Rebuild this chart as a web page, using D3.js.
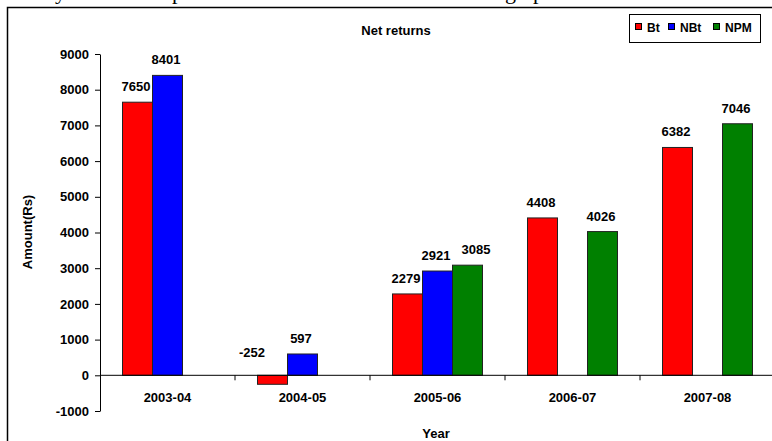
<!DOCTYPE html>
<html>
<head>
<meta charset="utf-8">
<script src="https://cdn.jsdelivr.net/npm/d3@7/dist/d3.min.js"></script>
<style>
  html, body { margin: 0; padding: 0; background: #fff; }
  svg { display: block; }
  text { font-family: "Liberation Sans", Arial, sans-serif; font-weight: bold; fill: #000; }
</style>
</head>
<body>
<svg id="chart" width="772" height="441"></svg>
<script>
const categories = ["2003-04", "2004-05", "2005-06", "2006-07", "2007-08"];
const seriesNames = ["Bt", "NBt", "NPM"];
const btValues  = [7650, -252, 2279, 4408, 6382];
const nbtValues = [8401, 597, 2921, null, null];
const npmValues = [null, null, 3085, 4026, 7046];
const yTicks = [-1000, 0, 1000, 2000, 3000, 4000, 5000, 6000, 7000, 8000, 9000];
const chartTitle = "Net returns";
const xTitle = "Year";
const yTitle = "Amount(Rs)";

const colors = {Bt: "#FF0000", NBt: "#0000FF", NPM: "#008000"};
const seriesValues = {Bt: btValues, NBt: nbtValues, NPM: npmValues};

const svg = d3.select("#chart");

// cut-off line of document text above the chart
const docLine = svg.append("text")
  .attr("y", -1)
  .style("font-family", "'Liberation Serif', 'Times New Roman', serif")
  .style("font-weight", "normal")
  .style("font-size", "22px");
docLine.append("tspan").attr("x", 55).text("y");
docLine.append("tspan").attr("x", 172).text("p");
docLine.append("tspan").attr("x", 505).text("graph");

// outer frame
svg.append("rect")
  .attr("x", 7.5).attr("y", 7.5)
  .attr("width", 780).attr("height", 450)
  .attr("fill", "none").attr("stroke", "#000").attr("stroke-width", 1.5);

const x0 = d3.scaleBand().domain(categories).range([100, 775]).paddingInner(0).paddingOuter(0);
const x1 = d3.scaleBand().domain(seriesNames).range([x0.bandwidth() / 6, x0.bandwidth() * 5 / 6]);
const y = d3.scaleLinear().domain([-1000, 9000]).range([411, 54]);

// bars
const groups = svg.append("g").selectAll("g")
  .data(categories)
  .join("g")
  .attr("transform", c => `translate(${x0(c)},0)`);

const barData = (c, i) => seriesNames
  .map(s => ({s, v: seriesValues[s][i], c}))
  .filter(d => d.v !== null);

groups.each(function (c, i) {
  const g = d3.select(this);
  const data = barData(c, i);
  g.selectAll("rect").data(data).join("rect")
    .attr("x", d => x1(d.s))
    .attr("width", x1.bandwidth())
    .attr("y", d => y(Math.max(0, d.v)))
    .attr("height", d => Math.abs(y(d.v) - y(0)))
    .attr("fill", d => colors[d.s])
    .attr("stroke", "#222").attr("stroke-width", 1);
});

// x axis line at zero
svg.append("line")
  .attr("x1", 100).attr("x2", 775)
  .attr("y1", y(0)).attr("y2", y(0))
  .attr("stroke", "#000").attr("stroke-width", 1);

// boundary ticks
svg.append("g").selectAll("line")
  .data(categories.slice(1))
  .join("line")
  .attr("x1", c => x0(c)).attr("x2", c => x0(c))
  .attr("y1", y(0)).attr("y2", y(0) + 5)
  .attr("stroke", "#000").attr("stroke-width", 1);

// category labels
svg.append("g").selectAll("text")
  .data(categories)
  .join("text")
  .attr("x", c => x0(c) + x0.bandwidth() / 2)
  .attr("y", 402)
  .attr("text-anchor", "middle")
  .style("font-size", "13px")
  .text(c => c);

// y axis
const yAxis = d3.axisLeft(y).tickValues(yTicks).tickSize(5).tickSizeOuter(0).tickPadding(6).tickFormat(d => String(d));
const ya = svg.append("g").attr("transform", "translate(100,0)").call(yAxis);
ya.selectAll("path, line").attr("stroke", "#000");
ya.selectAll("text").style("font-size", "13px").style("font-family", "'Liberation Sans', Arial, sans-serif").style("font-weight", "bold").attr("fill", "#000");

// value labels
const labelNudge = {"-252": -19, "3085": 10};
groups.each(function (c, i) {
  const g = d3.select(this);
  const data = barData(c, i);
  g.selectAll("text.val").data(data).join("text")
    .attr("class", "val")
    .attr("x", d => x1(d.s) + x1.bandwidth() / 2 - 1.5 + (labelNudge[String(d.v)] || 0))
    .attr("y", d => y(Math.max(0, d.v)) - (d.v < 0 ? 18 : 11))
    .attr("text-anchor", "middle")
    .style("font-size", "13px")
    .text(d => d.v);
});

// titles
svg.append("text").attr("x", 396).attr("y", 35).attr("text-anchor", "middle")
  .style("font-size", "13px").text(chartTitle);
svg.append("text").attr("x", 436).attr("y", 438).attr("text-anchor", "middle")
  .style("font-size", "13px").text(xTitle);
svg.append("text").attr("transform", "translate(32,232) rotate(-90)").attr("text-anchor", "middle")
  .style("font-size", "13px").text(yTitle);

// legend
const lg = svg.append("g").attr("transform", "translate(629,14)");
lg.append("rect").attr("x", 0.5).attr("y", 0.5).attr("width", 131).attr("height", 28)
  .attr("fill", "#fff").attr("stroke", "#000").attr("stroke-width", 1);
const legendX = [6, 39, 84];
const li = lg.selectAll("g.item").data(seriesNames).join("g")
  .attr("class", "item")
  .attr("transform", (s, i) => `translate(${legendX[i]},0)`);
li.append("rect").attr("x", 0.5).attr("y", 9.5).attr("width", 6).attr("height", 6)
  .attr("fill", s => colors[s]).attr("stroke", "#000").attr("stroke-width", 1);
li.append("text").attr("x", 12).attr("y", 18).style("font-size", "12px").text(s => s);
</script>
</body>
</html>
